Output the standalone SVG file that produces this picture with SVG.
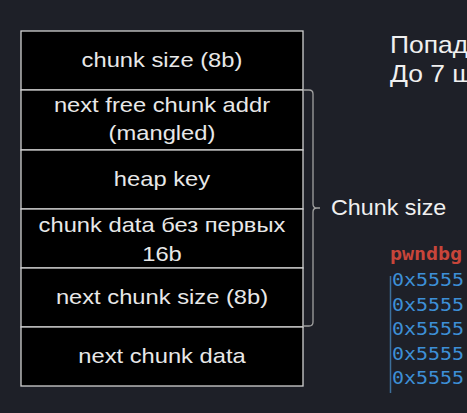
<svg xmlns="http://www.w3.org/2000/svg" width="467" height="413" viewBox="0 0 467 413">
<style>
.cell{fill:#000;stroke:#d0d0d0;stroke-width:1.3}
.t{font-family:"Liberation Sans",Arial,sans-serif;font-size:21px;fill:#e8e8e8;text-anchor:middle}
.r{font-family:"Liberation Sans",Arial,sans-serif;font-size:23px;fill:#f0f0f0}
.c{font-family:"Liberation Sans",Arial,sans-serif;font-size:22px;fill:#f0f0f0}
.m{font-family:"DejaVu Sans Mono",monospace;font-size:18px;fill:#3d8fd6}
</style>
<rect width="467" height="413" fill="#1e2028"/>
<g id="n1"><rect class="cell" x="21" y="31" width="282" height="59"/><text class="t" x="162" y="67" transform="translate(-21.06,0) scale(1.13,1)">chunk size (8b)</text></g>
<g id="n2"><rect class="cell" x="21" y="90" width="282" height="60"/><text class="t" x="162" y="112" transform="translate(-21.06,0) scale(1.13,1)">next free chunk addr</text><text class="t" x="162" y="140" transform="translate(-21.06,0) scale(1.13,1)">(mangled)</text></g>
<g id="n3"><rect class="cell" x="21" y="150" width="282" height="59"/><text class="t" x="162" y="186" transform="translate(-21.06,0) scale(1.13,1)">heap key</text></g>
<g id="n4"><rect class="cell" x="21" y="209" width="282" height="59"/><text class="t" x="162" y="232" transform="translate(-21.06,0) scale(1.13,1)">chunk data без первых</text><text class="t" x="162" y="261" transform="translate(-21.06,0) scale(1.13,1)">16b</text></g>
<g id="n5"><rect class="cell" x="21" y="268" width="282" height="59"/><text class="t" x="162" y="304" transform="translate(-21.06,0) scale(1.13,1)">next chunk size (8b)</text></g>
<g id="n6"><rect class="cell" x="21" y="327" width="282" height="59"/><text class="t" x="162" y="363" transform="translate(-21.06,0) scale(1.13,1)">next chunk data</text></g>
<g id="connectors">
<path d="M303,90 H309 Q313,90 313,94 V204 Q313,208 317,208 H320 M317,208 Q313,208 313,212 V322 Q313,326 309,326 H303" fill="none" stroke="#a0a0a0" stroke-width="1.3"/>
</g>
<g id="label"><text class="c" x="331" y="215" transform="translate(-19.86,0) scale(1.06,1)">Chunk size</text></g>
<g id="side">
<text class="r" x="390" y="53" transform="translate(-58.5,0) scale(1.15,1)">Попад</text>
<text class="r" x="390" y="82" transform="translate(-58.5,0) scale(1.15,1)">До 7 ш</text>
<text x="390" y="260" font-family="DejaVu Sans Mono,monospace" font-size="18" font-weight="bold" fill="#c8453a" transform="translate(-42.9,0) scale(1.11,1)">pwndbg</text>
<line x1="390.5" y1="276" x2="390.5" y2="393" stroke="#3d6f9a" stroke-width="1.5"/>
<text class="m" x="392" y="286" transform="translate(-43.12,0) scale(1.11,1)">0x5555</text>
<text class="m" x="392" y="311" transform="translate(-43.12,0) scale(1.11,1)">0x5555</text>
<text class="m" x="392" y="335" transform="translate(-43.12,0) scale(1.11,1)">0x5555</text>
<text class="m" x="392" y="360" transform="translate(-43.12,0) scale(1.11,1)">0x5555</text>
<text class="m" x="392" y="384" transform="translate(-43.12,0) scale(1.11,1)">0x5555</text>
</g>
</svg>
